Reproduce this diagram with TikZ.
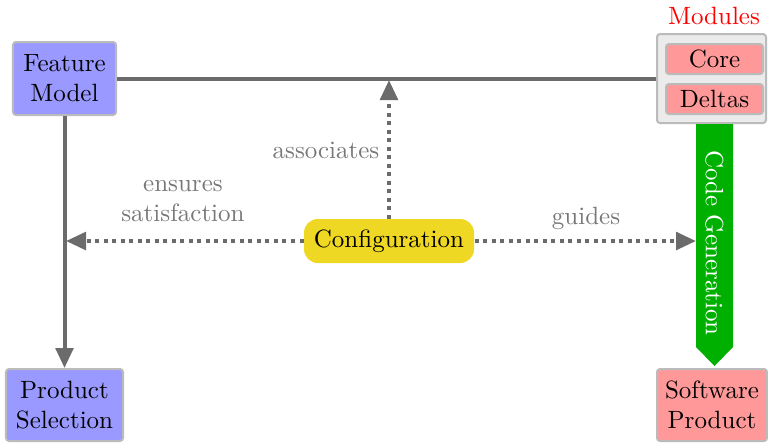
\documentclass[tikz,border=0pt]{standalone}
\usetikzlibrary{arrows.meta}
\definecolor{fmblue}{HTML}{9999FF}
\definecolor{modred}{HTML}{FF9999}
\definecolor{cfgyellow}{HTML}{EED823}
\definecolor{gengreen}{HTML}{00B000}
\definecolor{edgegray}{HTML}{6B6B6B}
\definecolor{labelgray}{HTML}{777777}
\definecolor{boxborder}{HTML}{BBBBBB}
\definecolor{modbg}{HTML}{EBEBEB}
\begin{document}
\begin{tikzpicture}[x=0.4pt,y=-0.4pt,
  box/.style={draw=boxborder, line width=0.8pt, rounded corners=1.2pt,
    align=center, inner sep=0pt},
  bluebox/.style={box, fill=fmblue},
  redbox/.style={box, fill=modred},
  link/.style={draw=edgegray, line width=1.6pt},
  solidarrow/.style={link, -{Triangle[length=8pt,width=7pt]}},
  dotarrow/.style={link, dash pattern=on 1.6pt off 1.8pt,
    -{Triangle[length=8pt,width=7pt]}},
  note/.style={text=labelgray, align=center, inner sep=0pt}
]
\useasboundingbox (0,0) rectangle (768,443);

% boxes
\node[bluebox, minimum width=41.2pt, minimum height=29.2pt] (fm) at (64.5,78.5) {Feature\\Model};
\node[bluebox, minimum width=46.8pt, minimum height=28.8pt] (ps) at (64.5,405) {Product\\Selection};
\node[redbox, minimum width=44pt, minimum height=28.8pt] (sp) at (712,405) {Software\\Product};

% module container
\node[box, fill=modbg, minimum width=43.6pt, minimum height=35.6pt] (mods) at (711.5,78.5) {};
\node[redbox, minimum width=38.8pt, minimum height=12pt] (core) at (714.5,59) {Core};
\node[redbox, minimum width=38.8pt, minimum height=12pt] (deltas) at (714.5,99) {Deltas};
\node[text=red, inner sep=0pt] (modlabel) at (714,16) {Modules};

% configuration
\node[fill=cfgyellow, rounded corners=5.5pt, minimum width=68pt, minimum height=17.6pt,
  inner sep=0pt] (cfg) at (389,241) {Configuration};

% code generation arrow
\fill[gengreen] (696,124) -- (733,124) -- (733,347) -- (714.5,366) -- (696,347) -- cycle;
\node[text=white, rotate=-90, inner sep=0pt] (cg) at (714.5,243) {Code Generation};
\coordinate (cgin) at (696,241);

% connectors
\coordinate (assoc) at (389,80);
\coordinate (sat) at (66,241);
\draw[link] (fm.east) -- (mods.west);
\draw[solidarrow] (fm.south) -- (ps.north);
\draw[dotarrow] (cfg.north) -- (assoc);
\draw[dotarrow] (cfg.west) -- (sat);
\draw[dotarrow] (cfg.east) -- (cgin);

% labels
\node[note] (l1) at (326,150) {associates};
\node[note] (l2) at (183,201) {ensures\\satisfaction};
\node[note] (l3) at (586,218) {guides};
\end{tikzpicture}
\end{document}
